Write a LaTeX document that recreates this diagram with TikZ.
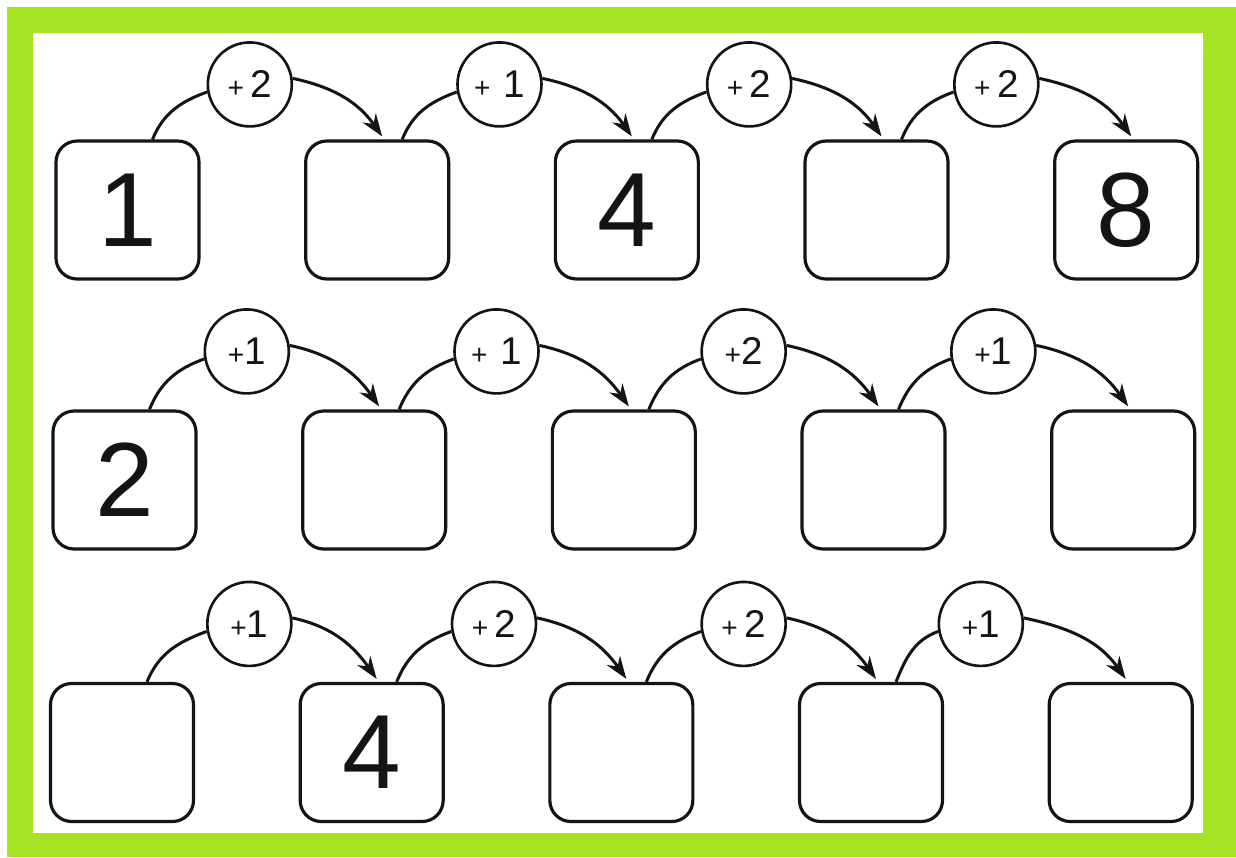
\documentclass[tikz,border=0pt]{standalone}
\usepackage{fontspec}
\setmainfont{Liberation Sans}
\usetikzlibrary{arrows.meta,positioning,calc}
\definecolor{wsGreen}{HTML}{A6E324}
\definecolor{wsInk}{HTML}{141414}
\newcommand{\plusmark}{{\fontsize{16}{16}\selectfont+}}
\tikzset{
  numbox/.style={rectangle,rounded corners=12pt,
    minimum width=2.86cm,minimum height=2.76cm,inner sep=0pt,
    draw=wsInk,line width=1.8pt,fill=white,
    font=\fontsize{60}{60}\selectfont,text=wsInk},
  opcirc/.style={circle,minimum size=1.68cm,inner sep=0pt,
    draw=wsInk,line width=1.5pt,fill=white,
    font=\fontsize{22}{22}\selectfont,text=wsInk},
  link/.style={line width=1.7pt,color=wsInk},
  arr/.style={-{Stealth[length=0.45cm,width=0.32cm]},line width=1.7pt,color=wsInk},
}
\begin{document}
\begin{tikzpicture}[node distance=2.07cm]
  \useasboundingbox (0,0) rectangle (24.72,-17.14);
  \fill[wsGreen,even odd rule] (0.14,-0.14) rectangle (24.72,-17.14)
    (0.66,-0.66) rectangle (24.06,-16.66);

  % row 1
  \node[numbox] (b11) at (2.55,-4.2) {1};
  \node[numbox,right=of b11] (b12) {};
  \node[numbox,right=of b12] (b13) {4};
  \node[numbox,right=of b13] (b14) {};
  \node[numbox,right=of b14] (b15) {8};
  \node[opcirc] (c11) at ($(b11.north)!0.5!(b12.north)+(-0.05,1.1)$) {\plusmark\,2};
  \node[opcirc] (c12) at ($(b12.north)!0.5!(b13.north)+(-0.05,1.1)$) {\plusmark\,\,1};
  \node[opcirc] (c13) at ($(b13.north)!0.5!(b14.north)+(-0.05,1.1)$) {\plusmark\,2};
  \node[opcirc] (c14) at ($(b14.north)!0.5!(b15.north)+(-0.1,1.1)$) {\plusmark\,2};

  % row 2
  \node[numbox] (b21) at (2.49,-9.6) {2};
  \node[numbox,right=of b21] (b22) {};
  \node[numbox,right=of b22] (b23) {};
  \node[numbox,right=of b23] (b24) {};
  \node[numbox,right=of b24] (b25) {};
  \node[opcirc] (c21) at ($(b21.north)!0.5!(b22.north)+(-0.05,1.16)$) {\plusmark1};
  \node[opcirc] (c22) at ($(b22.north)!0.5!(b23.north)+(-0.05,1.16)$) {\plusmark\,\,1};
  \node[opcirc] (c23) at ($(b23.north)!0.5!(b24.north)+(-0.1,1.16)$) {\plusmark2};
  \node[opcirc] (c24) at ($(b24.north)!0.5!(b25.north)+(-0.1,1.16)$) {\plusmark1};

  % row 3
  \node[numbox] (b31) at (2.44,-15.05) {};
  \node[numbox,right=of b31] (b32) {4};
  \node[numbox,right=of b32] (b33) {};
  \node[numbox,right=of b33] (b34) {};
  \node[numbox,right=of b34] (b35) {};
  \node[opcirc] (c31) at ($(b31.north)!0.5!(b32.north)+(0.05,1.16)$) {\plusmark1};
  \node[opcirc] (c32) at ($(b32.north)!0.5!(b33.north)+(-0.05,1.16)$) {\plusmark\,2};
  \node[opcirc] (c33) at ($(b33.north)!0.5!(b34.north)+(-0.05,1.16)$) {\plusmark\,2};
  \node[opcirc] (c34) at ($(b34.north)!0.5!(b35.north)+(-0.3,1.16)$) {\plusmark1};

  \draw[link] ([xshift=0.5cm]b11.north) to[out=68,in=200] (c11.190);
  \draw[arr] (c11.8) to[out=-12,in=125] ([shift={(0.1,0.06)}]b12.north);
  \draw[link] ([xshift=0.5cm]b12.north) to[out=68,in=200] (c12.190);
  \draw[arr] (c12.8) to[out=-12,in=125] ([shift={(0.1,0.06)}]b13.north);
  \draw[link] ([xshift=0.5cm]b13.north) to[out=68,in=200] (c13.190);
  \draw[arr] (c13.8) to[out=-12,in=125] ([shift={(0.1,0.06)}]b14.north);
  \draw[link] ([xshift=0.5cm]b14.north) to[out=68,in=200] (c14.190);
  \draw[arr] (c14.8) to[out=-12,in=125] ([shift={(0.1,0.06)}]b15.north);

  \draw[link] ([xshift=0.5cm]b21.north) to[out=68,in=200] (c21.190);
  \draw[arr] (c21.8) to[out=-12,in=125] ([shift={(0.1,0.06)}]b22.north);
  \draw[link] ([xshift=0.5cm]b22.north) to[out=68,in=200] (c22.190);
  \draw[arr] (c22.8) to[out=-12,in=125] ([shift={(0.1,0.06)}]b23.north);
  \draw[link] ([xshift=0.5cm]b23.north) to[out=68,in=200] (c23.190);
  \draw[arr] (c23.8) to[out=-12,in=125] ([shift={(0.1,0.06)}]b24.north);
  \draw[link] ([xshift=0.5cm]b24.north) to[out=68,in=200] (c24.190);
  \draw[arr] (c24.8) to[out=-12,in=125] ([shift={(0.1,0.06)}]b25.north);

  \draw[link] ([xshift=0.5cm]b31.north) to[out=68,in=200] (c31.190);
  \draw[arr] (c31.8) to[out=-12,in=125] ([shift={(0.1,0.06)}]b32.north);
  \draw[link] ([xshift=0.5cm]b32.north) to[out=68,in=200] (c32.190);
  \draw[arr] (c32.8) to[out=-12,in=125] ([shift={(0.1,0.06)}]b33.north);
  \draw[link] ([xshift=0.5cm]b33.north) to[out=68,in=200] (c33.190);
  \draw[arr] (c33.8) to[out=-12,in=125] ([shift={(0.1,0.06)}]b34.north);
  \draw[link] ([xshift=0.5cm]b34.north) to[out=68,in=200] (c34.190);
  \draw[arr] (c34.8) to[out=-12,in=125] ([shift={(0.1,0.06)}]b35.north);
\end{tikzpicture}
\end{document}
